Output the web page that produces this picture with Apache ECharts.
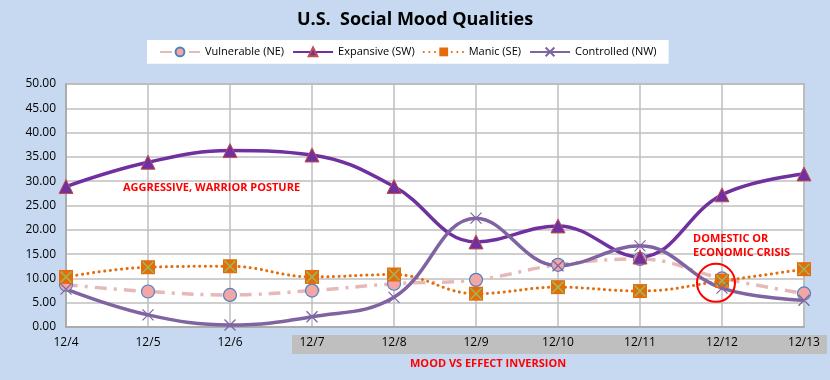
<!DOCTYPE html>
<html><head><meta charset="utf-8">
<script src="https://cdn.jsdelivr.net/npm/echarts@6/dist/echarts.min.js"></script>
<style>html,body{margin:0;padding:0;background:#C6D9F1;}#c{width:830px;height:380px;}</style>
</head><body><div id="c"></div>
<script>
var categories = ['12/4','12/5','12/6','12/7','12/8','12/9','12/10','12/11','12/12','12/13'];
var vulnerable = [8.7, 7.3, 6.6, 7.5, 8.9, 9.7, 12.8, 14.0, 10.0, 6.9];
var expansive  = [28.9, 33.9, 36.3, 35.4, 28.9, 17.5, 20.8, 14.4, 27.2, 31.5];
var manic      = [10.3, 12.3, 12.5, 10.3, 10.8, 6.85, 8.2, 7.4, 9.5, 11.9];
var controlled = [7.8, 2.5, 0.4, 2.1, 6.1, 22.4, 12.6, 16.7, 8.0, 5.5];
var yTicks = [0, 50, 5];

var X_PATH = 'path://M0,0 L10,10 M10,0 L0,10';
var ff = '"Open Sans", "Liberation Sans", sans-serif';

var chart = echarts.init(document.getElementById('c'));
var option = {
  backgroundColor: '#C6D9F1',
  animation: false,
  title: {
    text: 'U.S.  Social Mood Qualities',
    left: 'center', top: 6,
    textStyle: {fontFamily: ff, fontSize: 18, fontWeight: 'bold', color: '#000'}
  },
  legend: {
    data: ['Vulnerable (NE)','Expansive (SW)','Manic (SE)','Controlled (NW)'],
    left: 147, top: 40,
    backgroundColor: '#fff', padding: [5, 12, 5, 12],
    itemWidth: 40, itemHeight: 11, itemGap: 8,
    textStyle: {fontFamily: ff, fontSize: 11, color: '#000'}
  },
  grid: {left: 66, right: 26, top: 84, bottom: 53, show: true,
    backgroundColor: '#FFFFFF', borderColor: '#A6A6A6', borderWidth: 1.5},
  xAxis: {
    type: 'category', data: categories, boundaryGap: false,
    axisLine: {lineStyle: {color: '#A6A6A6', width: 1.5}},
    axisTick: {show: false},
    axisLabel: {fontFamily: ff, fontSize: 12, color: '#000', margin: 10},
    splitLine: {show: true, lineStyle: {color: '#BFBFBF', width: 1.5}}
  },
  yAxis: {
    type: 'value', min: yTicks[0], max: yTicks[1], interval: yTicks[2],
    axisLine: {show: true, lineStyle: {color: '#A6A6A6', width: 1.5}},
    axisLabel: {fontFamily: ff, fontSize: 12, color: '#000', margin: 10,
      formatter: function (v) { return v.toFixed(2); }},
    splitLine: {lineStyle: {color: '#BFBFBF', width: 1.5}}
  },
  series: [
    {name: 'Vulnerable (NE)', type: 'line', data: vulnerable, smooth: 0.4,
     symbol: 'circle', symbolSize: 13,
     lineStyle: {color: '#E6B9B8', width: 3.5, type: [12, 7, 3, 7]},
     itemStyle: {color: '#F2A7A6', borderColor: '#4F81BD', borderWidth: 1.2}},
    {name: 'Expansive (SW)', type: 'line', data: expansive, smooth: 0.4,
     symbol: 'triangle', symbolSize: 14,
     lineStyle: {color: '#7030A0', width: 3.5},
     itemStyle: {color: '#7030A0', borderColor: '#C0504D', borderWidth: 1}},
    {name: 'Manic (SE)', type: 'line', data: manic, smooth: 0.4,
     symbol: 'rect', symbolSize: 14,
     lineStyle: {color: '#E46C0A', width: 3, type: [0.1, 5.5], cap: 'round'},
     itemStyle: {color: '#E46C0A', borderColor: '#E46C0A', borderWidth: 0}},
    {name: 'manicX', type: 'line', data: manic, smooth: 0.4,
     symbol: X_PATH, symbolSize: 11, z: 3,
     lineStyle: {opacity: 0},
     itemStyle: {color: 'none', borderColor: '#9BBB59', borderWidth: 1.5}},
    {name: 'Controlled (NW)', type: 'line', data: controlled, smooth: 0.4,
     symbol: X_PATH, symbolSize: 11,
     lineStyle: {color: '#8064A2', width: 3.5},
     itemStyle: {color: 'none', borderColor: '#8064A2', borderWidth: 1.3}}
  ]
};
chart.setOption(option);

var red = '#FF0000';
var band0 = chart.convertToPixel({xAxisIndex: 0}, '12/7');
var circ = chart.convertToPixel({gridIndex: 0}, ['12/12', 9.1]);
chart.setOption({
  graphic: [
    {type: 'rect', z: -1, shape: {x: band0 - 20, y: 335, width: 827 - (band0 - 20), height: 19},
     style: {fill: '#BFBFBF'}},
    {type: 'circle', shape: {cx: circ[0] - 6, cy: circ[1], r: 19}, z: 100,
     style: {fill: 'none', stroke: red, lineWidth: 2}},
    {type: 'text', left: 123, top: 182, z: 100,
     style: {text: 'AGGRESSIVE, WARRIOR POSTURE', fill: red, font: 'bold 11px ' + ff}},
    {type: 'text', left: 693, top: 232, z: 100,
     style: {text: 'DOMESTIC OR\nECONOMIC CRISIS', fill: red, font: 'bold 11px ' + ff, lineHeight: 14}},
    {type: 'text', left: 410, top: 358, z: 100,
     style: {text: 'MOOD VS EFFECT INVERSION', fill: red, font: 'bold 11px ' + ff}}
  ]
});
</script>
</body></html>
